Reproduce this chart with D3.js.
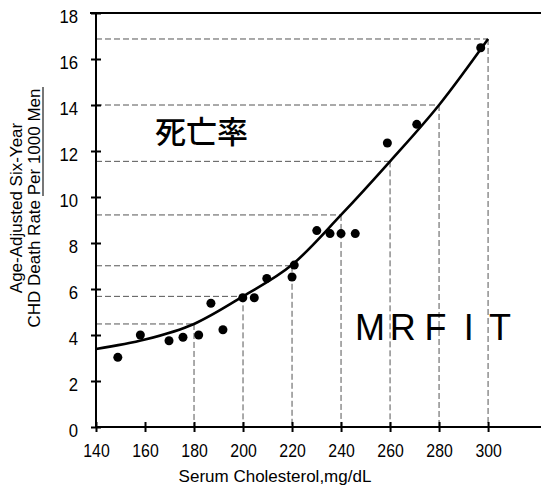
<!DOCTYPE html>
<html><head><meta charset="utf-8">
<script src="https://cdn.jsdelivr.net/npm/d3@7"></script>
<style>body{margin:0;background:#fff}</style></head>
<body>
<svg id="c" width="541" height="497"></svg>
<script>
const xTicks = [140, 160, 180, 200, 220, 240, 260, 280, 300];
const yTicks = [0, 2, 4, 6, 8, 10, 12, 14, 16, 18];
const pointX = [148.9, 158.1, 169.8, 175.5, 181.9, 186.9, 191.8, 199.9, 204.6, 209.7, 220.0, 220.9, 230.1, 235.5, 240.0, 245.8, 258.9, 270.9, 297.0];
const pointY = [3.03, 4.00, 3.75, 3.90, 4.00, 5.38, 4.23, 5.62, 5.62, 6.46, 6.52, 7.04, 8.54, 8.41, 8.41, 8.41, 12.35, 13.16, 16.49];
const curveX = [140, 160, 180, 200, 220, 240, 260, 280, 300];
const curveY = [3.39, 3.80, 4.48, 5.68, 7.05, 9.22, 11.55, 14.00, 16.87];
const guideX = [180, 200, 220, 240, 260, 280, 300];
const guideY = [4.48, 5.68, 7.01, 9.22, 11.55, 14.00, 16.87];
const titleZh = "死亡率";
const studyLetters = ["M", "R", "F", "I", "T"];
const studyPos = [251.8, 265.2, 278.5, 292.1, 304.9];
const xTitle = "Serum Cholesterol,mg/dL";
const yTitle1 = "Age-Adjusted Six-Year";
const yTitle2 = "CHD Death Rate Per 1000 Men";

const svg = d3.select("#c");
const x = d3.scaleLinear().domain([140, 321.6]).range([96, 541]);
const y = d3.scaleLinear().domain([0, 18]).range([427, 13]);

// guides
const g = svg.append("g").attr("stroke", "#555").attr("stroke-width", 1).attr("stroke-dasharray", "6,3");
guideX.forEach((gx, i) => {
  g.append("line").attr("x1", x(140)).attr("x2", x(gx)).attr("y1", y(guideY[i])).attr("y2", y(guideY[i]));
  g.append("line").attr("x1", x(gx)).attr("x2", x(gx)).attr("y1", y(guideY[i])).attr("y2", y(0));
});

// top border
svg.append("line").attr("x1", x(140) - 6).attr("x2", 541).attr("y1", y(18)).attr("y2", y(18))
  .attr("stroke", "#000").attr("stroke-width", 2);

// axes
const fontTick = "'Liberation Sans',Arial,sans-serif";
const xa = svg.append("g").attr("transform", `translate(0,${y(0)})`)
  .call(d3.axisBottom(x).tickValues(xTicks).tickFormat(d3.format("d")).tickSize(5).tickPadding(12));
xa.select(".domain").attr("d", `M${x(140)},0H541`).attr("stroke-width", 2);
xa.selectAll(".tick line").attr("y1", -5).attr("y2", 5).attr("stroke-width", 2);
xa.selectAll(".tick text").attr("font-family", fontTick).attr("font-size", 19).attr("fill", "#000")
  .attr("textLength", d => String(d).length * 8.8).attr("lengthAdjust", "spacingAndGlyphs");

const ya = svg.append("g").attr("transform", `translate(${x(140)},0)`)
  .call(d3.axisLeft(y).tickValues(yTicks).tickFormat(d3.format("d")).tickSize(5).tickPadding(13));
ya.select(".domain").attr("d", `M0,${y(0)}V${y(18)}`).attr("stroke-width", 2);
ya.selectAll(".tick line").attr("x1", -5).attr("x2", 5).attr("stroke-width", 2);
ya.selectAll(".tick text").attr("font-family", fontTick).attr("font-size", 19).attr("fill", "#000").attr("dy", "0.5em")
  .attr("textLength", d => String(d).length * 9.3).attr("lengthAdjust", "spacingAndGlyphs");

// curve
const line = d3.line().x(d => x(d[0])).y(d => y(d[1])).curve(d3.curveMonotoneX);
svg.append("path").datum(curveX.map((cx, i) => [cx, curveY[i]]))
  .attr("d", line).attr("fill", "none").attr("stroke", "#000").attr("stroke-width", 2.6);

// points
svg.append("g").selectAll("circle").data(pointX).join("circle")
  .attr("cx", d => x(d)).attr("cy", (d, i) => y(pointY[i])).attr("r", 4.5).attr("fill", "#000");

// labels
svg.append("text").attr("x", 155).attr("y", 143).text(titleZh)
  .attr("font-family", "'Noto Sans CJK JP','Noto Sans CJK SC',sans-serif").attr("font-size", 31).attr("font-weight", 500);

svg.append("text").attr("y", y(3.8)).attr("font-family", "'Liberation Sans',Arial,sans-serif").attr("font-size", 36)
  .attr("text-anchor", "middle")
  .selectAll("tspan").data(studyLetters).join("tspan").attr("x", (d, i) => x(studyPos[i])).text(d => d);

svg.append("text").attr("x", 275).attr("y", 482).attr("text-anchor", "middle")
  .attr("font-family", "'Liberation Sans',Arial,sans-serif").attr("font-size", 17).text(xTitle);

const yt = svg.append("g").attr("transform", "translate(22,208) rotate(-90)")
  .attr("font-family", "'Liberation Sans',Arial,sans-serif").attr("font-size", 17).attr("text-anchor", "middle");
yt.append("text").attr("y", 0).text(yTitle1);
yt.append("text").attr("y", 18).text(yTitle2);

// underline mark by the title
svg.append("line").attr("x1", 43).attr("x2", 43).attr("y1", 87).attr("y2", 196)
  .attr("stroke", "#777").attr("stroke-width", 2);
</script>
</body></html>
